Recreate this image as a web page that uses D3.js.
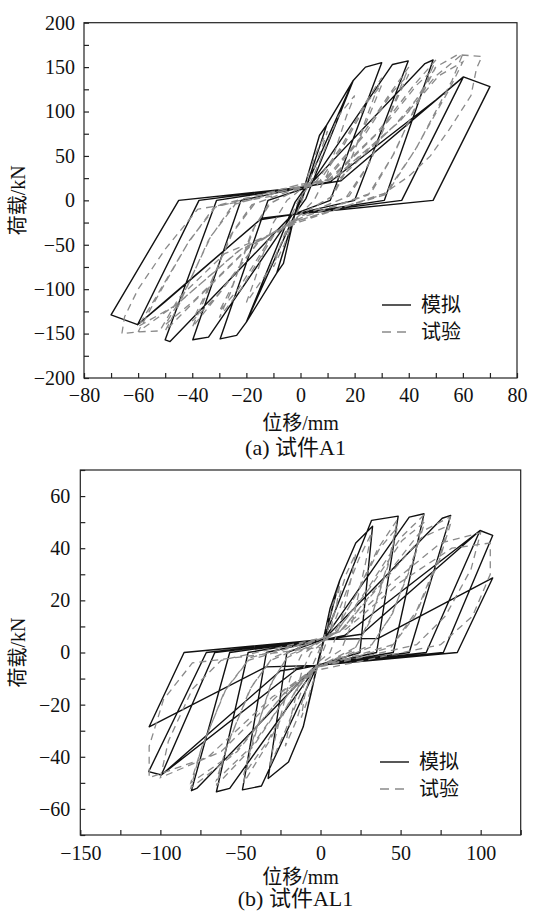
<!DOCTYPE html>
<html>
<head>
<meta charset="utf-8">
<script src="https://cdn.jsdelivr.net/npm/d3@7"></script>
<style>
body { margin: 0; background: #fff; }
svg { display: block; font-family: "Liberation Serif", "Noto Sans CJK SC", serif; }
</style>
</head>
<body>
<svg id="chart" width="536" height="918"></svg>
<script>
//////////////
/// DATA   ///
//////////////

// panel (a) specimen A1, displacement (mm) / load (kN)
const simA = [
    [0,0],[7,73],[9.7,85],[1,5],[-2,-14],[-6.3,-71],[-8.8,-82],[-1,-4],[2,14],
    [9.7,85],[19.5,135],[2,2],[-2,-15],[-8.8,-82],[-20,-137],[-2,-2],[2,15],
    [19.5,135],[24,150],[30,155],[11,0],[-2,-15],[-20,-137],[-23.6,-152],[-29.7,-156],[-12,0],[3,15],
    [34,153],[39.8,157],[20,0],[-3,-16],[-34,-154],[-39.8,-157],[-22,0],[3,16],
    [46,154],[49,158],[31,0],[-3,-16],[-48.2,-159],[-50,-157],[-31,0],[3,16],
    [11,21],[50,113],[60.2,139],[37.4,0],[-3,-16],[-14.3,-20],[-50,-114],[-60.2,-140],[-37.5,0],[3,16],
    [15,22],[60.2,139],[70,128],[49,0],[-3,-16],[-15,-22],[-60.2,-140],[-70,-129],[-45,0],[2,15]
];
const expA = [
    [0,0],[3,30],[6,55],[10,78],[8,60],[3,20],[0,-5],[-3,-25],[-6,-50],[-10,-75],[-8,-55],[-3,-15],[0,5],
    [3,15],[8,50],[14,95],[20,118],[17,95],[10,30],[5,0],[0,-15],[-5,-35],[-12,-80],[-20,-115],[-17,-90],[-10,-25],[-5,0],[0,12],
    [5,18],[15,60],[24,110],[30,138],[27,115],[18,40],[12,5],[0,-16],[-10,-40],[-22,-100],[-30,-132],[-26,-105],[-18,-35],[-12,-5],[0,14],
    [6,17],[16,62],[25,112],[30,130],[26,100],[17,35],[11,3],[0,-16],[-11,-42],[-23,-100],[-30,-125],[-25,-95],[-17,-30],[-11,-3],[0,14],
    [8,20],[22,70],[33,120],[40,150],[36,120],[26,45],[18,5],[0,-18],[-15,-45],[-30,-105],[-40,-143],[-36,-115],[-26,-40],[-18,-5],[0,15],
    [9,21],[24,75],[34,122],[40,142],[35,110],[25,40],[17,4],[0,-18],[-16,-48],[-31,-108],[-40,-136],[-35,-105],[-25,-36],[-17,-4],[0,15],
    [10,22],[28,75],[42,130],[50,158],[46,130],[35,55],[26,8],[0,-20],[-18,-50],[-38,-110],[-50,-147],[-45,-118],[-34,-45],[-25,-5],[0,16],
    [11,23],[30,80],[43,130],[50,150],[45,120],[34,50],[25,6],[0,-20],[-19,-52],[-39,-112],[-50,-140],[-44,-110],[-33,-40],[-24,-4],[0,16],
    [12,24],[35,85],[50,140],[60,165],[56,135],[43,60],[32,8],[0,-22],[-22,-55],[-45,-115],[-60,-148],[-55,-120],[-42,-50],[-32,-8],[0,18],
    [13,25],[37,90],[51,140],[60,156],[55,125],[42,55],[31,6],[0,-22],[-23,-57],[-46,-118],[-60,-142],[-54,-112],[-41,-45],[-31,-6],[0,18],
    [15,26],[40,100],[50,150],[58,164],[67,162],[65,148],[63,118],[55,80],[48,50],[40,27],[31,8],[0,-24],
    [-28,-60],[-45,-110],[-52,-147],[-60,-148],[-66,-150],[-65,-131],[-60,-100],[-50,-55],[-38,-10],[-10,5]
];
const xTicksA = [-80,-60,-40,-20,0,20,40,60,80];
const xMinorA = [-70,-50,-30,-10,10,30,50,70];
const yTicksA = [-200,-150,-100,-50,0,50,100,150,200];
const yMinorA = [-175,-125,-75,-25,25,75,125,175];

// panel (b) specimen AL1
const simB = [
    [0,0],[6,17],[12,27.7],[1,2],[-2,-5],[-6,-16],[-10.8,-28.5],[-1,-2],[2,5],
    [12,27.7],[22,42],[32.5,48.4],[24.6,0],[-2,-5],[-10.8,-28.5],[-20,-42],[-32.7,-48.3],[-21,0],[2,5],
    [31.9,50.7],[48.5,52.3],[35,0],[-2,-5],[-36.9,-51.2],[-48.75,-52.7],[-33.8,0],[2,5],
    [55.4,51.9],[64.6,53.2],[45.4,0],[-2,-5],[-56.7,-52.1],[-65,-53.4],[-45.2,0],[2,5],
    [76,51.5],[81.3,52.6],[55.4,0],[-3,-5],[-77,-52],[-80.6,-53],[-56.7,0],[3,5],
    [15,6.5],[99.6,46.8],[66,0],[-3,-5],[-15,-6.5],[-99.4,-47],[-66,0],[3,5],
    [25.6,7],[99.6,46.8],[107.5,44.9],[76.7,0],[-3,-5],[-25,-7],[-99.4,-47],[-107.3,-45.7],[-71.3,0],[3,5],
    [36,5.4],[107.5,28.6],[85.4,0],[-3,-5],[-34,-5.5],[-107,-28.5],[-85.2,0],[2,5]
];
const expB = [
    [0,0],[4,10],[8,19],[12,26],[10,18],[5,6],[0,-2],[-4,-10],[-8,-18],[-12,-25],[-10,-17],[-5,-5],[0,2],
    [3,6],[10,18],[16,30],[22,38],[19,28],[12,10],[6,0],[-2,-4],[-8,-12],[-15,-26],[-22,-36],[-19,-26],[-12,-8],[-6,0],[2,4],
    [5,6],[14,20],[24,36],[32,46],[28,34],[20,12],[13,1],[-2,-5],[-10,-12],[-22,-30],[-32,-44],[-28,-32],[-19,-10],[-12,-1],[2,5],
    [8,7],[22,22],[36,40],[48,51],[43,36],[32,14],[22,2],[-3,-6],[-14,-13],[-32,-34],[-48,-50],[-43,-36],[-31,-12],[-21,-2],[3,5],
    [8,7],[23,23],[37,40],[48,48],[42,33],[31,12],[21,1],[-3,-6],[-15,-14],[-33,-34],[-48,-47],[-42,-33],[-30,-11],[-20,-1],[3,5],
    [10,8],[30,25],[50,44],[65,53],[59,38],[45,15],[32,3],[-3,-6],[-18,-14],[-42,-36],[-65,-51],[-59,-37],[-44,-14],[-31,-3],[3,6],
    [10,8],[31,25],[51,43],[65,50],[58,35],[44,14],[31,2],[-3,-6],[-19,-15],[-43,-36],[-65,-49],[-58,-35],[-43,-13],[-30,-2],[3,6],
    [12,8],[38,27],[62,46],[81,52],[75,38],[60,16],[45,3],[-4,-6],[-22,-15],[-52,-38],[-81,-52],[-75,-38],[-60,-15],[-45,-3],[4,6],
    [12,8],[39,27],[63,44],[81,49],[74,35],[59,14],[44,2],[-4,-6],[-23,-16],[-53,-38],[-81,-50],[-74,-36],[-59,-14],[-44,-2],[4,6],
    [14,9],[45,27],[75,42],[100,46],[94,32],[78,14],[60,3],[-4,-6],[-26,-16],[-62,-38],[-100,-48],[-95,-34],[-80,-14],[-62,-3],[4,6],
    [16,9],[50,27],[82,40],[106,42],[106,30],[95,14],[75,3],[-4,-7],[-30,-17],[-70,-40],[-107,-48],[-107,-36],[-98,-18],[-80,-4],[0,2]
];
const xTicksB = [-150,-100,-50,0,50,100];
const xMinorB = [-125,-75,-25,25,75,125];
const yTicksB = [-60,-40,-20,0,20,40,60];
const yMinorB = [-70,-50,-30,-10,10,30,50,70];

// text
const yTitle = '荷载/kN';
const xTitle = '位移/mm';
const legendNames = ['模拟', '试验'];
const captions = ['(a) 试件A1', '(b) 试件AL1'];

///////////////////
/// PANEL SETUP ///
///////////////////

const svg = d3.select('#chart');

const panels = [
    {
        sim: simA, exp: expA, caption: captions[0],
        xDomain: [-80, 80], yDomain: [-200, 200],
        xTicks: xTicksA, xMinor: xMinorA, yTicks: yTicksA, yMinor: yMinorA,
        left: 84, right: 517, top: 22.7, bottom: 378,
        xPad: 10, yPad: 9, xTitleY: 430, captionY: 455, yTitleX: 18,
        legendX: 382, legendY: 305
    },
    {
        sim: simB, exp: expB, caption: captions[1],
        xDomain: [-150, 125], yDomain: [-70, 70],
        xTicks: xTicksB, xMinor: xMinorB, yTicks: yTicksB, yMinor: yMinorB,
        left: 80.3, right: 520.7, top: 470, bottom: 835,
        xPad: 11, yPad: 10, xTitleY: 884, captionY: 906, yTitleX: 18,
        legendX: 380, legendY: 762
    }
];

function drawPanel(p) {
    const g = svg.append('g');

    const xScale = d3.scaleLinear().domain(p.xDomain).range([p.left, p.right]);
    const yScale = d3.scaleLinear().domain(p.yDomain).range([p.bottom, p.top]);

    // frame
    g.append('rect')
        .attr('x', p.left)
        .attr('y', p.top)
        .attr('width', p.right - p.left)
        .attr('height', p.bottom - p.top)
        .attr('fill', 'none')
        .attr('stroke', '#222')
        .attr('stroke-width', 1.2);

    // axes, inward ticks, minor ticks carry no label
    const xAll = p.xTicks.concat(p.xMinor);
    const yAll = p.yTicks.concat(p.yMinor);

    const xAxis = g.append('g')
        .attr('transform', 'translate(0,' + p.bottom + ')')
        .call(d3.axisBottom(xScale)
            .tickValues(xAll)
            .tickSizeInner(-5)
            .tickSizeOuter(0)
            .tickPadding(p.xPad)
            .tickFormat(function(d) {return p.xTicks.includes(d) ? d3.format('')(d) : ''}));

    const yAxis = g.append('g')
        .attr('transform', 'translate(' + p.left + ',0)')
        .call(d3.axisLeft(yScale)
            .tickValues(yAll)
            .tickSizeInner(-5)
            .tickSizeOuter(0)
            .tickPadding(p.yPad)
            .tickFormat(function(d) {return p.yTicks.includes(d) ? d3.format('')(d) : ''}));

    [xAxis, yAxis].forEach(function(a) {
        a.select('.domain').remove();
        a.selectAll('line').attr('stroke', '#222').attr('stroke-width', 1.2);
        a.selectAll('text')
            .attr('font-family', '"Liberation Serif", serif')
            .attr('font-size', 20)
            .attr('fill', '#111');
    });

    // curves
    const line = d3.line()
        .x(function(d) {return xScale(d[0])})
        .y(function(d) {return yScale(d[1])});

    g.append('path')
        .datum(p.sim)
        .attr('d', line)
        .attr('fill', 'none')
        .attr('stroke', '#111')
        .attr('stroke-width', 1.4)
        .attr('stroke-linejoin', 'round');

    g.append('path')
        .datum(p.exp)
        .attr('d', line)
        .attr('fill', 'none')
        .attr('stroke', '#8a8a8a')
        .attr('stroke-width', 1.3)
        .attr('stroke-dasharray', '7,5');

    // titles
    g.append('text')
        .attr('x', (p.left + p.right) / 2)
        .attr('y', p.xTitleY)
        .attr('text-anchor', 'middle')
        .attr('font-size', 20)
        .attr('fill', '#111')
        .text(xTitle);

    g.append('text')
        .attr('transform', 'translate(' + p.yTitleX + ',' + (p.top + p.bottom) / 2 + ') rotate(-90)')
        .attr('text-anchor', 'middle')
        .attr('dy', '0.35em')
        .attr('font-size', 20)
        .attr('fill', '#111')
        .text(yTitle);

    g.append('text')
        .attr('x', (p.left + p.right) / 2 - 5)
        .attr('y', p.captionY)
        .attr('text-anchor', 'middle')
        .attr('font-size', 22)
        .attr('fill', '#111')
        .text(p.caption);

    // legend
    const legend = g.selectAll('.legend-entry').data(legendNames).enter()
        .append('g')
        .attr('class', 'legend-entry')
        .attr('transform', function(d, i) {return 'translate(' + p.legendX + ',' + (p.legendY + i * 27) + ')'});

    legend.append('line')
        .attr('x1', 0)
        .attr('x2', 29)
        .attr('stroke', function(d, i) {return i == 0 ? '#111' : '#8a8a8a'})
        .attr('stroke-width', 1.4)
        .attr('stroke-dasharray', function(d, i) {return i == 0 ? null : '9,6'});

    legend.append('text')
        .attr('x', 39)
        .attr('dy', '0.35em')
        .attr('font-size', 20)
        .attr('fill', '#111')
        .text(function(d) {return d});
}

panels.forEach(drawPanel);
</script>
</body>
</html>
